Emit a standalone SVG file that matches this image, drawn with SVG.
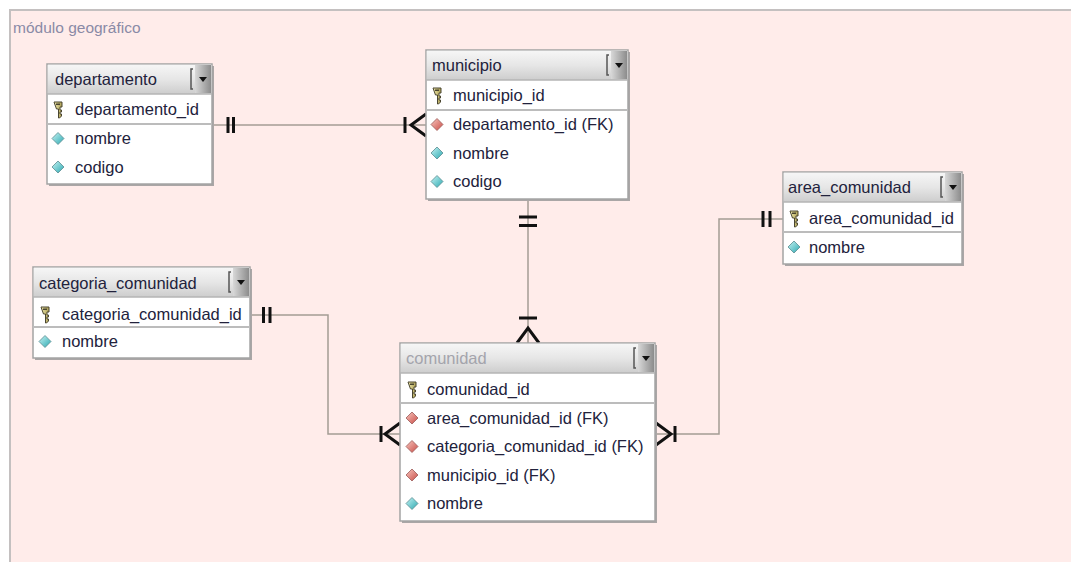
<svg xmlns="http://www.w3.org/2000/svg" width="1071" height="562" viewBox="0 0 1071 562">
  <defs>
    <linearGradient id="hdr" x1="0" y1="0" x2="0" y2="1">
      <stop offset="0" stop-color="#f6f6f6"/>
      <stop offset="0.5" stop-color="#e6e6e6"/>
      <stop offset="1" stop-color="#cdcdcd"/>
    </linearGradient>
    <linearGradient id="btn" x1="0" y1="0" x2="1" y2="0">
      <stop offset="0" stop-color="#d8d8d8"/>
      <stop offset="1" stop-color="#8c8c8c"/>
    </linearGradient>
    <linearGradient id="attr" x1="0" y1="0" x2="1" y2="1">
      <stop offset="0" stop-color="#c8f4f4"/>
      <stop offset="1" stop-color="#2aa8b0"/>
    </linearGradient>
    <linearGradient id="fk" x1="0" y1="0" x2="1" y2="1">
      <stop offset="0" stop-color="#f8c8c0"/>
      <stop offset="1" stop-color="#c84a44"/>
    </linearGradient>
    <linearGradient id="keyg" x1="0" y1="0" x2="1" y2="0">
      <stop offset="0" stop-color="#f4eeb0"/>
      <stop offset="1" stop-color="#a89a50"/>
    </linearGradient>
    <!-- primary key icon -->
    <g id="key">
      <path d="M-4,-7 h8 v5 h-2 v3 h1.5 v2 h-1.5 v2 h1.5 v2 l-2,2 h-1 v-9 h-2 z" fill="url(#keyg)" stroke="#4a4630" stroke-width="1"/>
      <rect x="-2" y="-5.5" width="4" height="1.5" fill="#4a4630"/>
    </g>
    <!-- plain attribute marker -->
    <path id="dia" d="M0,-6 L6,0 L0,6 L-6,0 Z" fill="url(#attr)" stroke="#5a8c90" stroke-width="0.8"/>
    <!-- foreign key attribute marker -->
    <path id="diafk" d="M0,-6 L6,0 L0,6 L-6,0 Z" fill="url(#fk)" stroke="#9a5a58" stroke-width="0.8"/>
  </defs>
  <style>
    .panel { fill: #ffecea; stroke: #c4c0c0; stroke-width: 2; }
    .caption { font-family: "Liberation Sans", Arial, sans-serif; font-size: 15.5px; fill: #8a8aa6; }
    .shadow { fill: #aaa6a6; }
    .body { fill: #ffffff; stroke: #a4a4a4; stroke-width: 1.5; }
    .head { fill: url(#hdr); }
    .sep { stroke: #b4b4b4; stroke-width: 1.5; }
    .sep2 { stroke: #bcbcbc; stroke-width: 2; }
    .t { font-family: "Liberation Sans", Arial, sans-serif; font-size: 16.5px; fill: #22223c; }
    .dim { fill: #a4a4ac; }
    .brk { fill: none; stroke: #555; stroke-width: 1.5; }
    .btn { fill: url(#btn); }
    .tri { fill: #111; }
    .rel { fill: none; stroke: #a49c94; stroke-width: 1.5; }
    .mk { fill: none; stroke: #111; stroke-width: 3; }
  </style>

  <rect x="0" y="0" width="1071" height="562" fill="#ffffff"/>
  <rect class="panel" x="10" y="10" width="1080" height="580"/>
  <text class="caption" x="13" y="33">módulo geográfico</text>

  <!-- relationships -->
  <g id="connectors">
    <!-- departamento 1 : N municipio -->
    <path class="rel" d="M212,125 H426"/>
    <path class="mk" d="M228,117 V133 M233.5,117 V133"/>
    <path class="mk" d="M405,117 V133 M426,114 L411,125 L426,136"/>
    <!-- municipio 1 : N comunidad -->
    <path class="rel" d="M528,200 V343"/>
    <path class="mk" d="M519,217 H537 M519,225.5 H537"/>
    <path class="mk" d="M519,318 H537 M517,343 L528,328 L539,343"/>
    <!-- area_comunidad 1 : N comunidad -->
    <path class="rel" d="M783,219 H719 V434 H656"/>
    <path class="mk" d="M763,211 V227 M770,211 V227"/>
    <path class="mk" d="M675,426 V442 M656,423 L671,434 L656,445"/>
    <!-- categoria_comunidad 1 : N comunidad -->
    <path class="rel" d="M250,315 H328 V434 H400"/>
    <path class="mk" d="M263.5,307 V323 M270,307 V323"/>
    <path class="mk" d="M381,426 V442 M400,423 L385,434 L400,445"/>
  </g>

  <!-- departamento -->
  <g id="departamento" transform="translate(47,64)">
    <rect class="shadow" x="2" y="2" width="165" height="120"/>
    <rect class="body" x="0" y="0" width="165" height="120"/>
    <rect class="head" x="0.75" y="0.75" width="163.5" height="29.25"/>
    <path class="brk" d="M146,5 h-2 v20 h2"/>
    <rect class="btn" x="148" y="1" width="16" height="28"/>
    <path class="tri" d="M152,13 h8 l-4,5 z"/>
    <line class="sep" x1="0" y1="30" x2="165" y2="30"/>
    <line class="sep2" x1="0" y1="60" x2="165" y2="60"/>
    <text class="t" x="8" y="20.5">departamento</text>
    <use href="#key" x="11" y="45"/>
    <text class="t" x="28" y="51">departamento_id</text>
    <use href="#dia" x="11" y="74.5"/>
    <text class="t" x="28" y="80">nombre</text>
    <use href="#dia" x="11" y="103"/>
    <text class="t" x="28" y="108.5">codigo</text>
  </g>

  <!-- municipio -->
  <g id="municipio" transform="translate(426,50)">
    <rect class="shadow" x="2" y="2" width="202" height="149"/>
    <rect class="body" x="0" y="0" width="202" height="149"/>
    <rect class="head" x="0.75" y="0.75" width="200.5" height="29.25"/>
    <path class="brk" d="M183,5 h-2 v20 h2"/>
    <rect class="btn" x="185" y="1" width="16" height="28"/>
    <path class="tri" d="M189,13 h8 l-4,5 z"/>
    <line class="sep" x1="0" y1="30" x2="202" y2="30"/>
    <line class="sep2" x1="0" y1="60" x2="202" y2="60"/>
    <text class="t" x="6" y="20.5">municipio</text>
    <use href="#key" x="11" y="45"/>
    <text class="t" x="27" y="51">municipio_id</text>
    <use href="#diafk" x="11" y="74.5"/>
    <text class="t" x="27" y="80">departamento_id (FK)</text>
    <use href="#dia" x="11" y="103"/>
    <text class="t" x="27" y="108.5">nombre</text>
    <use href="#dia" x="11" y="131.5"/>
    <text class="t" x="27" y="137">codigo</text>
  </g>

  <!-- area_comunidad -->
  <g id="area_comunidad" transform="translate(783,172)">
    <rect class="shadow" x="2" y="2" width="179" height="92"/>
    <rect class="body" x="0" y="0" width="179" height="92"/>
    <rect class="head" x="0.75" y="0.75" width="177.5" height="29.25"/>
    <path class="brk" d="M160,5 h-2 v20 h2"/>
    <rect class="btn" x="162" y="1" width="16" height="28"/>
    <path class="tri" d="M166,13 h8 l-4,5 z"/>
    <line class="sep" x1="0" y1="30" x2="179" y2="30"/>
    <line class="sep2" x1="0" y1="60" x2="179" y2="60"/>
    <text class="t" x="5" y="20.5">area_comunidad</text>
    <use href="#key" x="11" y="46"/>
    <text class="t" x="26" y="52">area_comunidad_id</text>
    <use href="#dia" x="11" y="75"/>
    <text class="t" x="26" y="80.5">nombre</text>
  </g>

  <!-- categoria_comunidad -->
  <g id="categoria_comunidad" transform="translate(33,267)">
    <rect class="shadow" x="2" y="2" width="217" height="91"/>
    <rect class="body" x="0" y="0" width="217" height="91"/>
    <rect class="head" x="0.75" y="0.75" width="215.5" height="29.25"/>
    <path class="brk" d="M198,5 h-2 v20 h2"/>
    <rect class="btn" x="200" y="1" width="16" height="28"/>
    <path class="tri" d="M204,13 h8 l-4,5 z"/>
    <line class="sep" x1="0" y1="30" x2="217" y2="30"/>
    <line class="sep2" x1="0" y1="60" x2="217" y2="60"/>
    <text class="t" x="6" y="22">categoria_comunidad</text>
    <use href="#key" x="12" y="47"/>
    <text class="t" x="29" y="53">categoria_comunidad_id</text>
    <use href="#dia" x="12" y="74.5"/>
    <text class="t" x="29" y="80">nombre</text>
  </g>

  <!-- comunidad -->
  <g id="comunidad" transform="translate(400,343)">
    <rect class="shadow" x="2" y="2" width="255" height="178"/>
    <rect class="body" x="0" y="0" width="255" height="178"/>
    <rect class="head" x="0.75" y="0.75" width="253.5" height="29.25"/>
    <path class="brk" d="M236,5 h-2 v20 h2"/>
    <rect class="btn" x="238" y="1" width="16" height="28"/>
    <path class="tri" d="M242,13 h8 l-4,5 z"/>
    <line class="sep" x1="0" y1="30" x2="255" y2="30"/>
    <line class="sep2" x1="0" y1="60" x2="255" y2="60"/>
    <text class="t dim" x="6" y="21">comunidad</text>
    <use href="#key" x="12" y="46"/>
    <text class="t" x="27" y="52">comunidad_id</text>
    <use href="#diafk" x="12" y="75"/>
    <text class="t" x="27" y="80.5">area_comunidad_id (FK)</text>
    <use href="#diafk" x="12" y="103.5"/>
    <text class="t" x="27" y="109">categoria_comunidad_id (FK)</text>
    <use href="#diafk" x="12" y="132"/>
    <text class="t" x="27" y="137.5">municipio_id (FK)</text>
    <use href="#dia" x="12" y="160.5"/>
    <text class="t" x="27" y="166">nombre</text>
  </g>
</svg>
